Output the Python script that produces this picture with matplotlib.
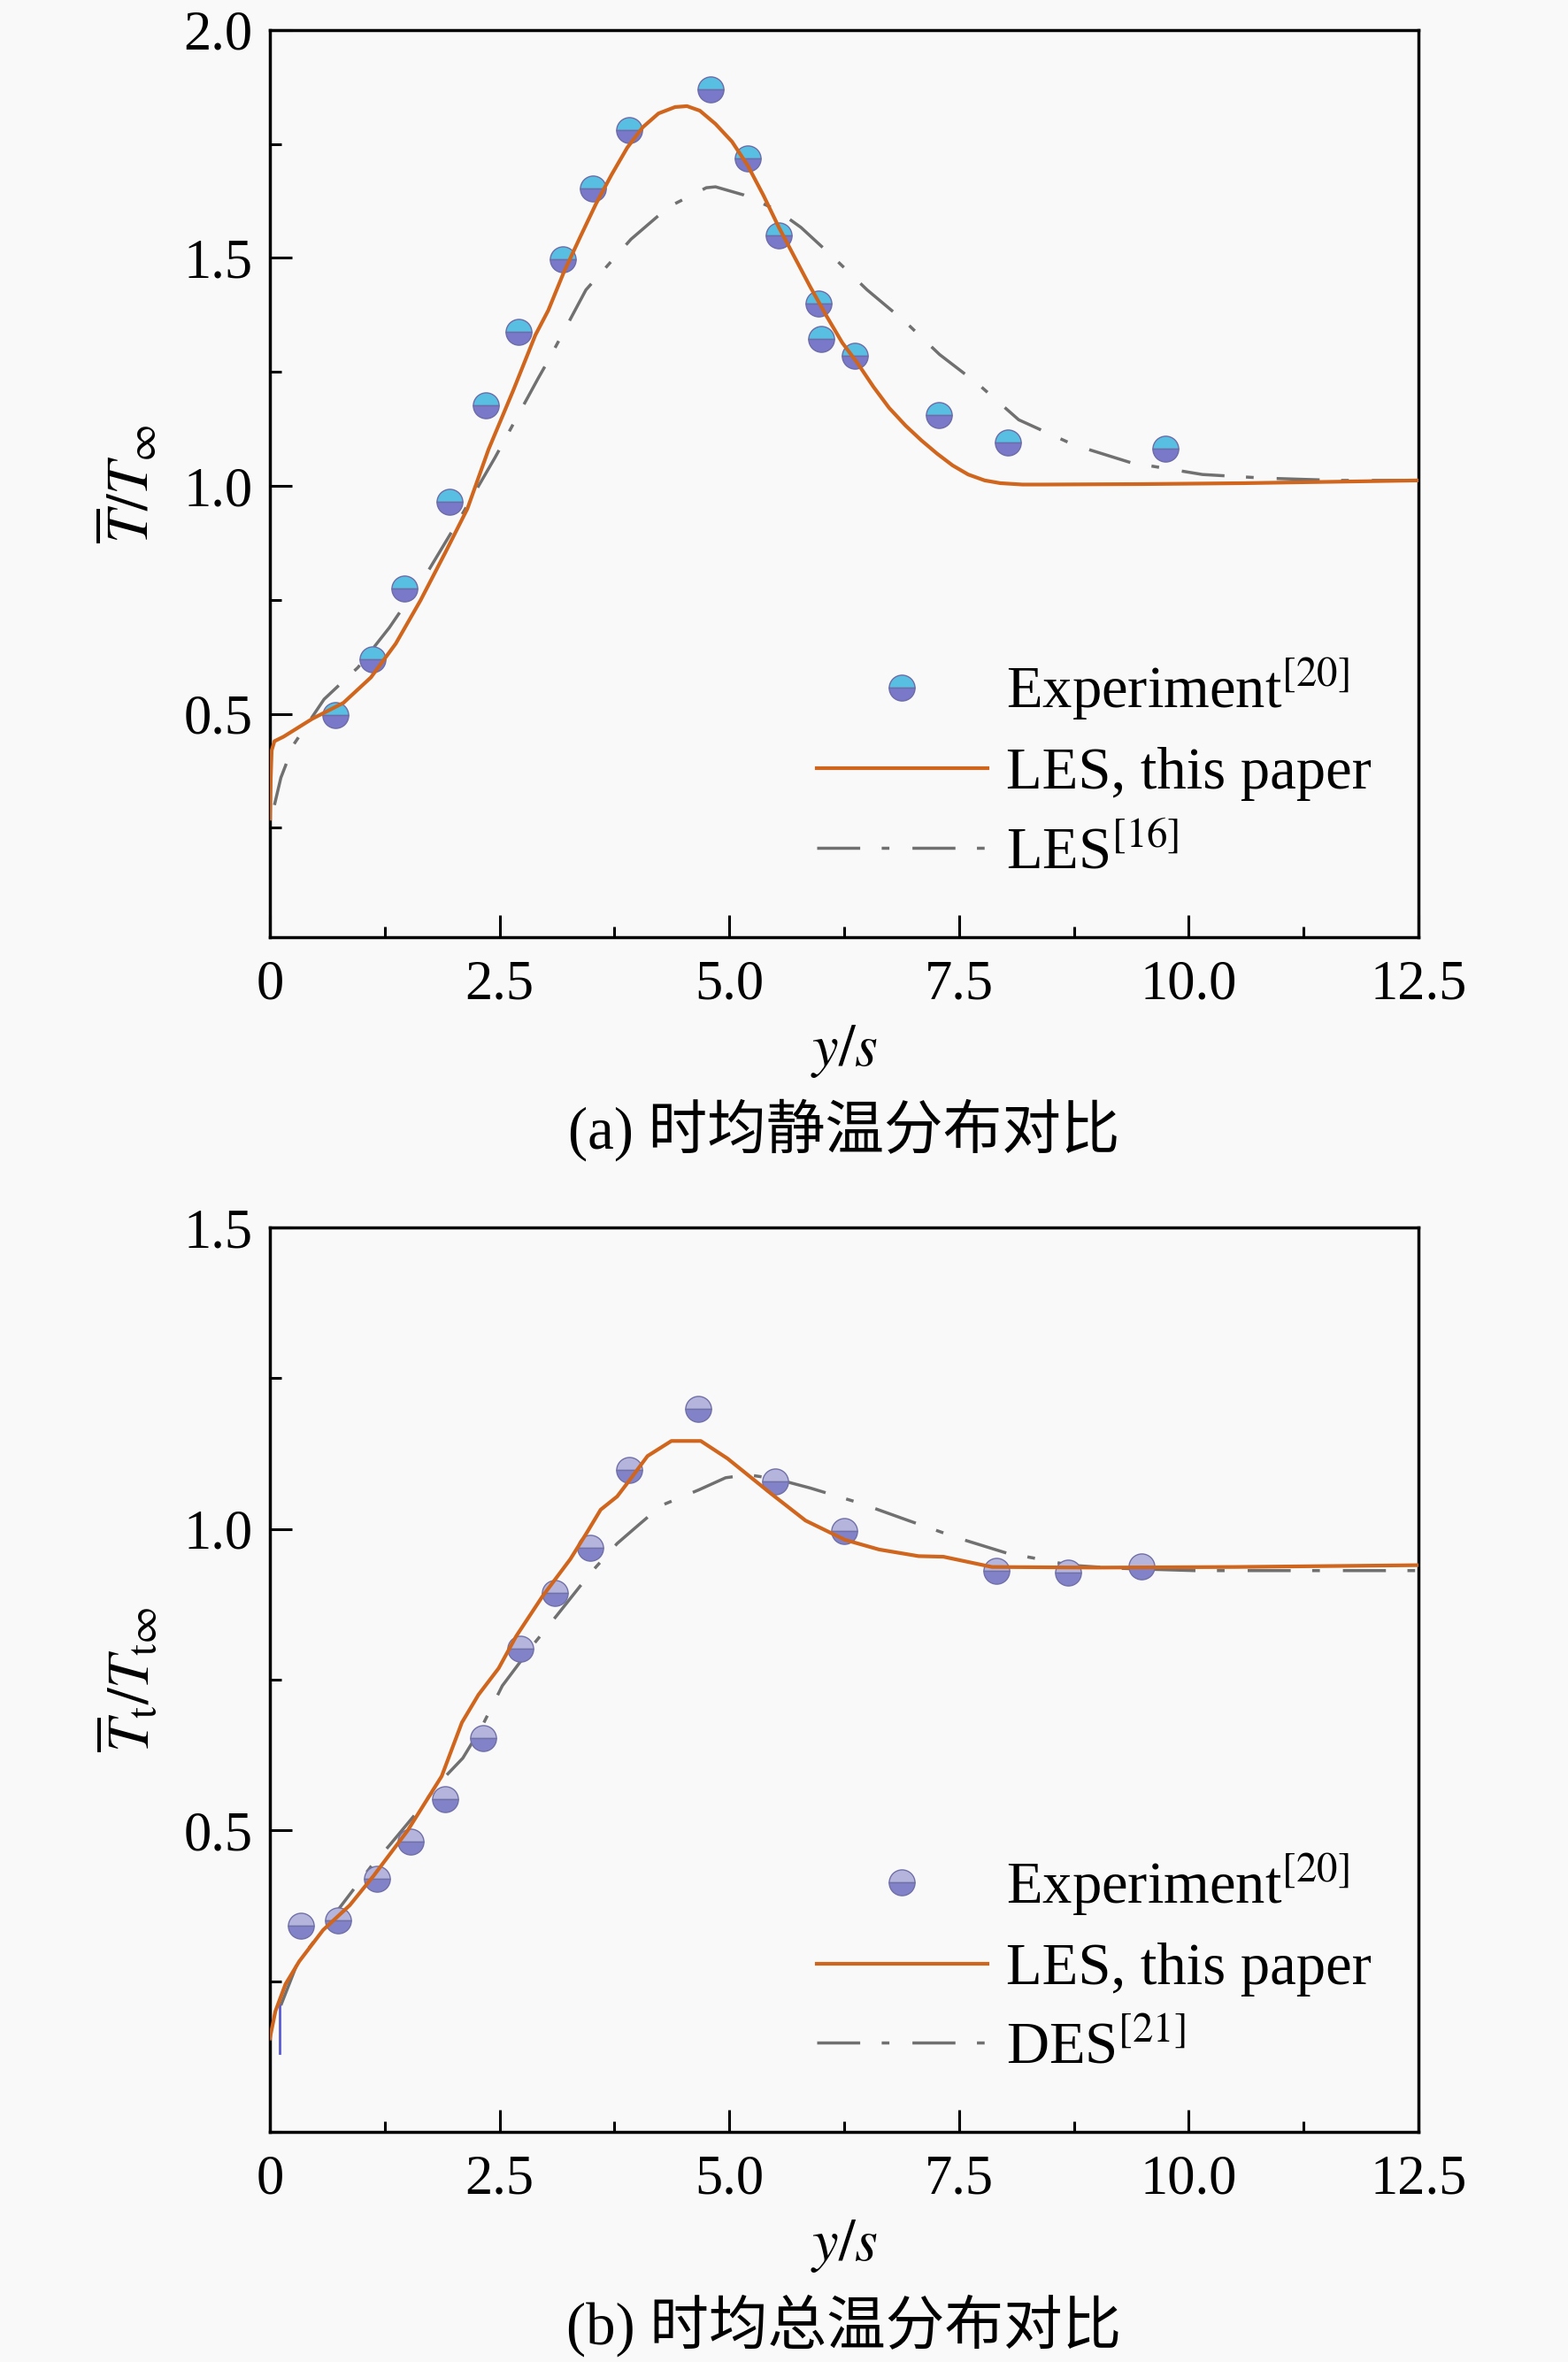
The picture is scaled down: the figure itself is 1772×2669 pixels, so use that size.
import numpy as np
import matplotlib
matplotlib.use("Agg")
import matplotlib.pyplot as plt
from matplotlib.ticker import MultipleLocator

plt.rcParams['font.family'] = ['Liberation Serif', 'Noto Sans CJK SC', 'DejaVu Sans']
plt.rcParams['mathtext.fontset'] = 'stix'

# ---- (a) time-averaged static temperature ----
exp_a_x = [0.71, 1.12, 1.46, 1.96, 2.35, 2.71, 3.19, 3.52, 3.91, 4.80, 5.20, 5.54,
           5.97, 6.00, 6.37, 7.28, 8.03, 9.75]
exp_a_y = [0.497, 0.619, 0.774, 0.966, 1.176, 1.338, 1.497, 1.653, 1.781, 1.869, 1.718, 1.549,
           1.400, 1.322, 1.286, 1.155, 1.095, 1.081]

les_a_x = [0.0, 0.01, 0.02, 0.05, 0.15, 0.46, 0.80, 1.10, 1.37, 1.64, 1.91, 2.15, 2.38,
           2.65, 2.89, 3.03, 3.20, 3.38, 3.55, 3.72, 3.89, 4.06, 4.23, 4.41, 4.54, 4.68,
           4.85, 5.03, 5.20, 5.37, 5.54, 5.71, 5.88, 6.06, 6.23, 6.40, 6.57, 6.74, 6.92,
           7.09, 7.26, 7.43, 7.60, 7.78, 7.95, 8.19, 8.42, 9.5, 10.6, 12.5]
les_a_y = [0.27, 0.36, 0.42, 0.44, 0.45, 0.489, 0.524, 0.58, 0.654, 0.749, 0.854, 0.95, 1.08,
           1.21, 1.331, 1.385, 1.469, 1.547, 1.619, 1.683, 1.742, 1.787, 1.817, 1.831, 1.833, 1.823,
           1.794, 1.755, 1.703, 1.638, 1.567, 1.502, 1.437, 1.372, 1.314, 1.268, 1.217, 1.171, 1.132,
           1.100, 1.071, 1.045, 1.025, 1.012, 1.006, 1.003, 1.003, 1.004, 1.006, 1.012]

ref_a_x = [0.05, 0.12, 0.26, 0.59, 0.96, 1.30, 1.74, 2.05, 2.45, 2.92, 3.03, 3.44, 3.93,
           4.34, 4.75, 4.85, 5.16, 5.51, 5.78, 6.13, 6.50, 6.92, 7.29, 7.71, 8.15, 8.75,
           9.37, 10.15, 10.83, 11.62, 12.5]
ref_a_y = [0.30, 0.36, 0.433, 0.532, 0.602, 0.689, 0.819, 0.923, 1.062, 1.236, 1.275, 1.43, 1.541,
           1.612, 1.654, 1.656, 1.638, 1.606, 1.567, 1.502, 1.43, 1.359, 1.288, 1.223, 1.145, 1.090,
           1.051, 1.025, 1.017, 1.012, 1.012]

# ---- (b) time-averaged total temperature ----
exp_b_x = [0.34, 0.74, 1.17, 1.53, 1.91, 2.32, 2.73, 3.10, 3.49, 3.91, 4.66, 5.50,
           6.25, 7.91, 8.69, 9.49]
exp_b_y = [0.342, 0.351, 0.420, 0.482, 0.552, 0.653, 0.802, 0.894, 0.969, 1.098, 1.199, 1.079,
           0.997, 0.930, 0.928, 0.938]

les_b_x = [0.0, 0.06, 0.17, 0.32, 0.58, 0.87, 1.13, 1.50, 1.87, 2.09, 2.27, 2.49, 2.68,
           2.97, 3.27, 3.45, 3.60, 3.78, 3.93, 4.11, 4.37, 4.69, 4.98, 5.46, 5.83, 6.26,
           6.63, 7.06, 7.33, 7.86, 9.0, 10.5, 12.5]
les_b_y = [0.155, 0.20, 0.245, 0.283, 0.335, 0.376, 0.425, 0.50, 0.59, 0.679, 0.725, 0.769, 0.822,
           0.889, 0.95, 0.994, 1.032, 1.054, 1.084, 1.121, 1.146, 1.146, 1.117, 1.058, 1.014, 0.982,
           0.966, 0.955, 0.954, 0.937, 0.936, 0.937, 0.94]

des_b_x = [0.12, 0.3, 0.6, 1.1, 1.3, 1.6, 1.85, 2.1, 2.3, 2.53, 2.86, 3.12, 3.49, 3.78,
           4.0, 4.26, 4.67, 4.96, 5.2, 5.51, 5.88, 6.42, 6.95, 7.49, 8.02, 8.45, 8.7, 9.2,
           10.06, 12.5]
des_b_y = [0.21, 0.28, 0.34, 0.44, 0.475, 0.53, 0.58, 0.62, 0.67, 0.74, 0.807, 0.856, 0.927, 0.976,
           1.005, 1.039, 1.065, 1.085, 1.09, 1.083, 1.068, 1.043, 1.014, 0.985, 0.96, 0.948, 0.94, 0.935,
           0.931, 0.931]

stray_b_x = [0.11, 0.11]
stray_b_y = [0.13, 0.21]

xticks = [0, 2.5, 5.0, 7.5, 10.0, 12.5]
xtick_labels = ['0', '2.5', '5.0', '7.5', '10.0', '12.5']

bg = '#f9f9f9'
orange = '#d0661e'
grey = '#707070'

fig = plt.figure(figsize=(17.72, 26.69), dpi=100, facecolor=bg)
ax_a = fig.add_axes([0.1721, 0.6032, 0.7325, 0.3841])
ax_b = fig.add_axes([0.1721, 0.0974, 0.7325, 0.3829])


def style_axes(ax):
    ax.set_facecolor(bg)
    for s in ax.spines.values():
        s.set_linewidth(2.5)
    ax.set_xlim(0, 12.5)
    ax.set_xticks(xticks)
    ax.set_xticklabels(xtick_labels)
    ax.xaxis.set_minor_locator(MultipleLocator(1.25))
    ax.yaxis.set_minor_locator(MultipleLocator(0.25))
    ax.tick_params(which='both', direction='in', top=False, right=False, width=2.2)
    ax.tick_params(which='major', length=18, labelsize=45)
    ax.tick_params(which='minor', length=9)
    ax.tick_params(axis='x', which='major', pad=18)
    ax.tick_params(axis='y', which='major', pad=14)


def add_legend(ax):
    ax.legend(loc='lower right', bbox_to_anchor=(0.985, 0.03), frameon=False, fontsize=48,
              handlelength=2.9, handletextpad=0.32, labelspacing=0.42, numpoints=1,
              borderpad=0)


# panel (a)
ax_a.plot(exp_a_x, exp_a_y, linestyle='none', marker='o', markersize=21,
          fillstyle='top', markerfacecolor='#58bfe2', markerfacecoloralt='#7a78c8',
          markeredgecolor='#6c6ca8', markeredgewidth=1, label='Experiment$^{[20]}$', zorder=3)
ax_a.plot(les_a_x, les_a_y, color=orange, lw=3, label='LES, this paper', zorder=4)
ax_a.plot(ref_a_x, ref_a_y, color=grey, lw=2.5, dashes=(14, 7, 2.5, 7.5),
          label='LES$^{[16]}$', zorder=2)
style_axes(ax_a)
ax_a.set_ylim(0.01, 2.0)
ax_a.set_yticks([0.5, 1.0, 1.5, 2.0])
ax_a.set_yticklabels(['0.5', '1.0', '1.5', '2.0'])
ax_a.set_xlabel('$y/s$', fontsize=48)
ax_a.set_ylabel(r'$\overline{T}/T_{\infty}$', fontsize=48)
ax_a.xaxis.set_label_coords(0.5, -0.095)
ax_a.yaxis.set_label_coords(-0.095, 0.5)
add_legend(ax_a)

# panel (b)
ax_b.plot(exp_b_x, exp_b_y, linestyle='none', marker='o', markersize=21,
          fillstyle='top', markerfacecolor='#b4b4dc', markerfacecoloralt='#8282c8',
          markeredgecolor='#7070a8', markeredgewidth=1, label='Experiment$^{[20]}$', zorder=3)
ax_b.plot(les_b_x, les_b_y, color=orange, lw=3, label='LES, this paper', zorder=4)
ax_b.plot(des_b_x, des_b_y, color=grey, lw=2.5, dashes=(14, 7, 2.5, 7.5),
          label='DES$^{[21]}$', zorder=2)
ax_b.plot(stray_b_x, stray_b_y, color='#5a5ad0', lw=2, zorder=2)
style_axes(ax_b)
ax_b.set_ylim(0, 1.5)
ax_b.set_yticks([0.5, 1.0, 1.5])
ax_b.set_yticklabels(['0.5', '1.0', '1.5'])
ax_b.set_xlabel('$y/s$', fontsize=48)
ax_b.set_ylabel(r'$\overline{T}_{\mathrm{t}}/T_{\mathrm{t}\infty}$', fontsize=48)
ax_b.xaxis.set_label_coords(0.5, -0.095)
ax_b.yaxis.set_label_coords(-0.095, 0.5)
add_legend(ax_b)

fig.text(0.538, 0.5215, '(a) 时均静温分布对比', ha='center', va='center', fontsize=48)
fig.text(0.538, 0.0155, '(b) 时均总温分布对比', ha='center', va='center', fontsize=48)

fig.savefig('out.png', dpi=100, facecolor=bg)
